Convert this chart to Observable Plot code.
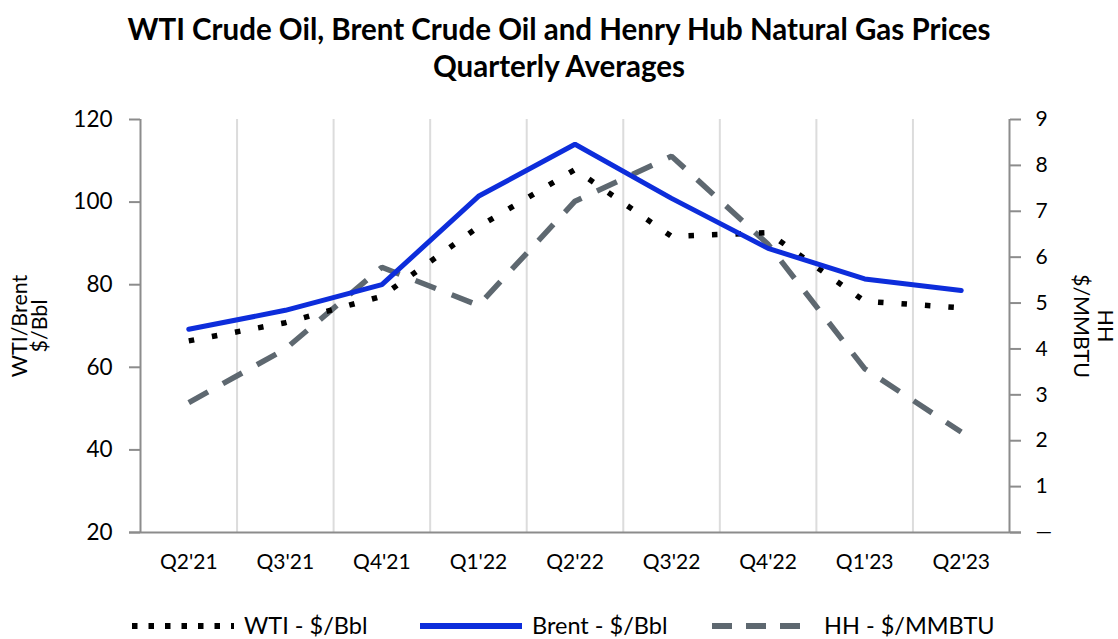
<!DOCTYPE html>
<html>
<head>
<meta charset="utf-8">
<script src="https://cdn.jsdelivr.net/npm/d3@7"></script>
<script src="https://cdn.jsdelivr.net/npm/@observablehq/plot@0.6"></script>
<style>
  html, body { margin: 0; padding: 0; background: #fff; }
  #wrap { position: relative; width: 1118px; height: 639px; font-family: Lato, "Open Sans", sans-serif; color: #000; overflow: hidden; }
  #title { position: absolute; top: 10px; left: 0; width: 1118px; text-align: center; font-weight: bold; font-size: 29.5px; line-height: 37px; }
  #chart { position: absolute; top: 90px; left: 0; }
  .leg { position: absolute; top: 613px; height: 25px; font-size: 23.5px; line-height: 25px; display: flex; align-items: center; white-space: nowrap; }
  .leg svg { display: block; }
</style>
</head>
<body>
<div id="wrap">
  <div id="title">WTI Crude Oil, Brent Crude Oil and Henry Hub Natural Gas Prices<br>Quarterly Averages</div>
  <div id="chart"></div>
  <div id="legend"></div>
</div>
<script>
const quarters = ["Q2'21", "Q3'21", "Q4'21", "Q1'22", "Q2'22", "Q3'22", "Q4'22", "Q1'23", "Q2'23"];
const wti   = [66.4, 70.8, 77.2, 94.0, 107.9, 91.7, 92.6, 76.0, 74.4];
const brent = [69.2, 73.8, 80.0, 101.4, 114.0, 100.9, 88.8, 81.4, 78.6];
const hh    = [2.83, 4.0, 5.78, 4.95, 7.22, 8.2, 6.28, 3.57, 2.19];
const leftTicks = [20, 40, 60, 80, 100, 120];
const rightTicks = [0, 1, 2, 3, 4, 5, 6, 7, 8, 9];
const seriesNames = ["WTI - $/Bbl", "Brent - $/Bbl", "HH - $/MMBTU"];

const leftMin = 20, leftMax = 120, rightMax = 9;
const toLeft = v => leftMin + v * (leftMax - leftMin) / rightMax;
const toRight = v => (v - leftMin) * rightMax / (leftMax - leftMin);

const idx = d3.range(quarters.length);
const wtiData = idx.map(i => ({i, v: wti[i]}));
const brentData = idx.map(i => ({i, v: brent[i]}));
const hhData = idx.map(i => ({i, v: toLeft(hh[i])}));

const axisColor = "#8C8C8C";
const wtiColor = "#000000", brentColor = "#0D2DDB", hhColor = "#5E6870";

const chart = Plot.plot({
  width: 1118,
  height: 490,
  marginTop: 29,
  marginBottom: 48,
  marginLeft: 140,
  marginRight: 109,
  style: {fontFamily: "Lato, 'Open Sans', sans-serif", fontSize: "22px", color: "#000", background: "#fff"},
  x: {type: "linear", domain: [-0.5, quarters.length - 0.5]},
  y: {domain: [leftMin, leftMax]},
  marks: [
    Plot.ruleX(d3.range(0.5, quarters.length - 1, 1), {stroke: "#DCDCDC", strokeWidth: 2}),
    Plot.ruleX([-0.5, quarters.length - 0.5], {stroke: axisColor, strokeWidth: 2}),
    Plot.ruleY([leftMin], {stroke: axisColor, strokeWidth: 2, insetLeft: -11, insetRight: -12}),
    Plot.axisY({anchor: "left", ticks: leftTicks, tickSize: 11, tickPadding: 17, stroke: axisColor, strokeWidth: 2, fontSize: 22.5, label: null}),
    Plot.axisY({anchor: "right", ticks: rightTicks.map(toLeft), tickSize: 11, tickPadding: 15, stroke: axisColor, strokeWidth: 2, fontSize: 21, label: null,
      tickFormat: d => { const r = Math.round(toRight(d)); return r === 0 ? "—" : String(r); }}),
    Plot.axisX({anchor: "bottom", ticks: idx, tickSize: 0, tickPadding: 22, fontSize: 21, label: null, tickFormat: i => quarters[i]}),
    Plot.text(["WTI/Brent\n$/Bbl"], {frameAnchor: "left", dx: -110, rotate: -90, fontSize: 21.5, lineHeight: 0.95, textAnchor: "middle"}),
    Plot.text(["HH\n$/MMBTU"], {frameAnchor: "right", dx: 84, rotate: 90, fontSize: 21.5, lineHeight: 1.1, textAnchor: "middle"}),
    Plot.line(hhData, {x: "i", y: "v", stroke: hhColor, strokeWidth: 5.5, strokeDasharray: "22 17", strokeLinecap: "butt", strokeLinejoin: "miter"}),
    Plot.line(wtiData, {x: "i", y: "v", stroke: wtiColor, strokeWidth: 5.5, strokeDasharray: "5.5 18", strokeLinecap: "butt"}),
    Plot.line(brentData, {x: "i", y: "v", stroke: brentColor, strokeWidth: 5, strokeLinejoin: "miter"})
  ]
});
document.getElementById("chart").appendChild(chart);

// Legend
const legend = document.getElementById("legend");
const items = [
  {name: seriesNames[0], color: wtiColor, dash: "5.5 11", left: 130},
  {name: seriesNames[1], color: brentColor, dash: null, left: 418},
  {name: seriesNames[2], color: hhColor, dash: "20 14", left: 710}
];
items.forEach(it => {
  const div = document.createElement("div");
  div.className = "leg";
  div.style.left = it.left + "px";
  const s = d3.create("svg").attr("width", 104).attr("height", 14).style("margin-right", "10px");
  s.append("line").attr("x1", 2).attr("x2", 104).attr("y1", 7).attr("y2", 7)
    .attr("stroke", it.color).attr("stroke-width", 6)
    .attr("stroke-dasharray", it.dash);
  div.appendChild(s.node());
  const t = document.createElement("span");
  t.textContent = it.name;
  div.appendChild(t);
  legend.appendChild(div);
});
</script>
</body>
</html>
